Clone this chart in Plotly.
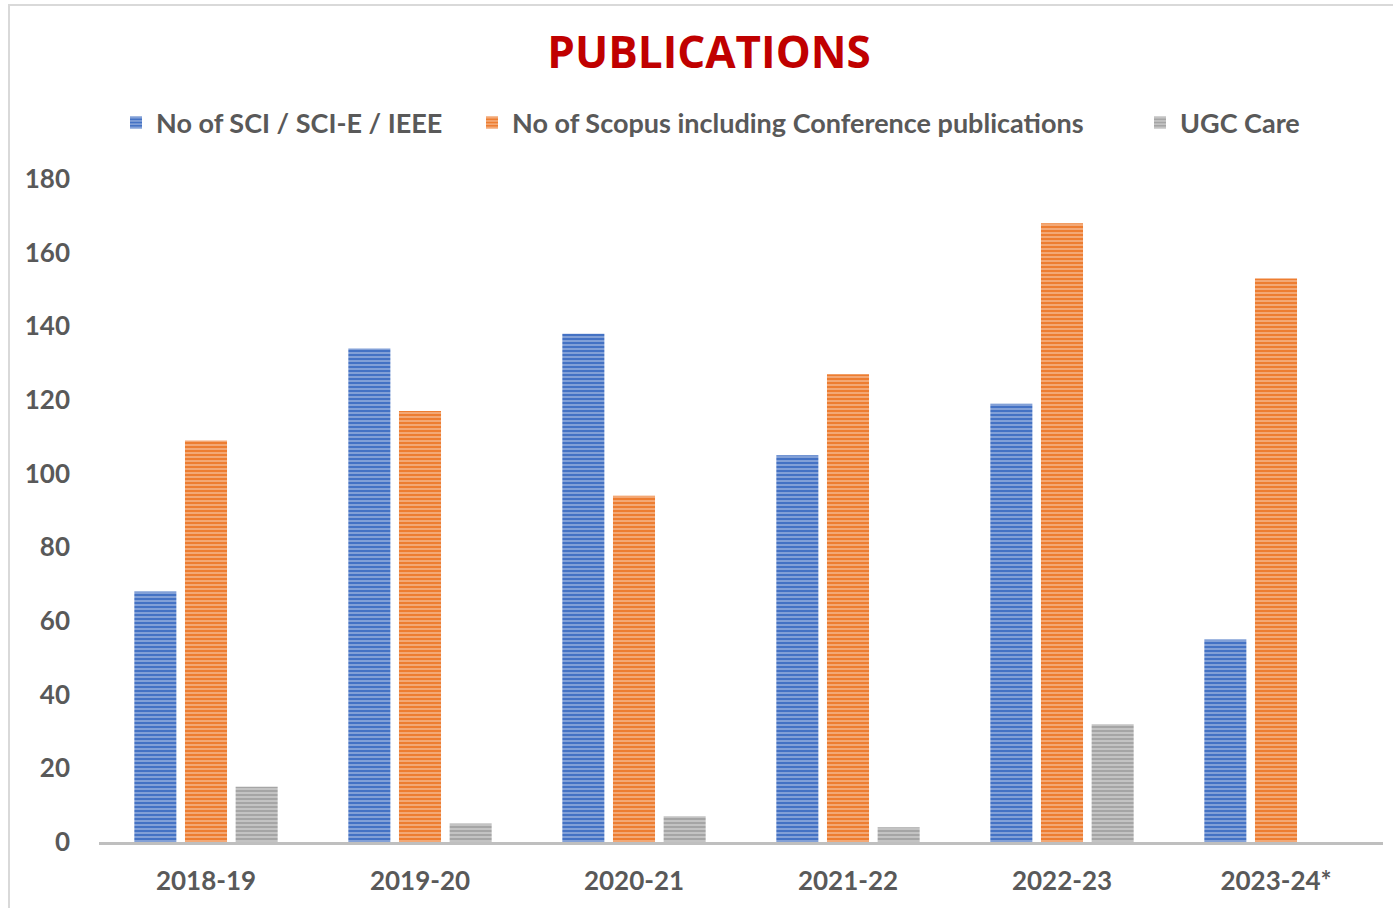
import plotly.graph_objects as go

categories = ["2018-19", "2019-20", "2020-21", "2021-22", "2022-23", "2023-24*"]
sci = [68, 134, 138, 105, 119, 55]
scopus = [109, 117, 94, 127, 168, 153]
ugc = [15, 5, 7, 4, 32, 0]
series_names = ["No of SCI / SCI-E / IEEE",
                "No of Scopus including Conference publications",
                "UGC Care"]
y_ticks = [0, 20, 40, 60, 80, 100, 120, 140, 160, 180]

colors = ["#4472C4", "#ED7D31", "#A5A5A5"]
FONT = "Lato"
TXT = "#595959"

W, H = 1393, 908
ml, mr, mt, mb = 99, 10, 179, 66
pw, ph = W - ml - mr, H - mt - mb

legend_ids = ["legend", "legend2", "legend3"]
text_starts = [158, 514, 1182]

fig = go.Figure()
for name, vals, c, lg in zip(series_names, [sci, scopus, ugc], colors, legend_ids):
    fig.add_trace(go.Bar(
        x=categories, y=vals, name=name, legend=lg,
        marker=dict(
            color=c,
            line=dict(color=c, width=0),
            pattern=dict(shape="-", bgcolor=c, fgcolor="white",
                         fgopacity=0.55, size=4, solidity=0.3,
                         fillmode="replace"),
        ),
    ))

legend_common = dict(orientation="h", yanchor="middle", xanchor="left",
                     y=(H - mb - 123) / ph, bgcolor="rgba(0,0,0,0)",
                     font=dict(family=FONT, size=27, color=TXT, weight="bold"),
                     itemwidth=30)
legends = {}
for lg, ts in zip(legend_ids, text_starts):
    legends[lg] = dict(legend_common, x=(ts - 42 - ml) / pw)

fig.update_layout(
    width=W, height=H,
    margin=dict(l=ml, r=mr, t=mt, b=mb, autoexpand=False),
    paper_bgcolor="white", plot_bgcolor="white",
    barmode="group", bargap=0.29, bargroupgap=0.17,
    font=dict(family=FONT, color=TXT),
    title=dict(text="<b>PUBLICATIONS</b>", x=709 / W, xanchor="center",
               y=1 - 53 / H, yanchor="middle", xref="container", yref="container",
               font=dict(family="Open Sans", size=44, color="#C00000")),
    showlegend=True,
    **legends,
)
fig.update_xaxes(showline=True, linecolor="#BFBFBF", linewidth=3,
                 ticks="", showgrid=False,
                 tickfont=dict(family=FONT, size=26, color=TXT, weight="bold"),
                 ticklabelstandoff=14)
fig.update_yaxes(range=[0, 180], tickvals=y_ticks, showgrid=False, zeroline=False,
                 showline=False, ticks="",
                 tickfont=dict(family=FONT, size=26, color=TXT, weight="bold"),
                 ticklabelstandoff=28)

# chart frame (light border at top/left like the source)
fig.add_shape(type="rect", xref="paper", yref="paper",
              x0=(9 - ml) / pw, x1=(W + 20 - ml) / pw,
              y0=(H - mb - (H + 20)) / ph, y1=(H - mb - 5) / ph,
              line=dict(color="#D9D9D9", width=2), fillcolor="rgba(0,0,0,0)",
              layer="below")

fig.write_html("out.html", config={"displayModeBar": False},
               post_script="document.body.style.margin='0';document.body.style.overflow='hidden';")
